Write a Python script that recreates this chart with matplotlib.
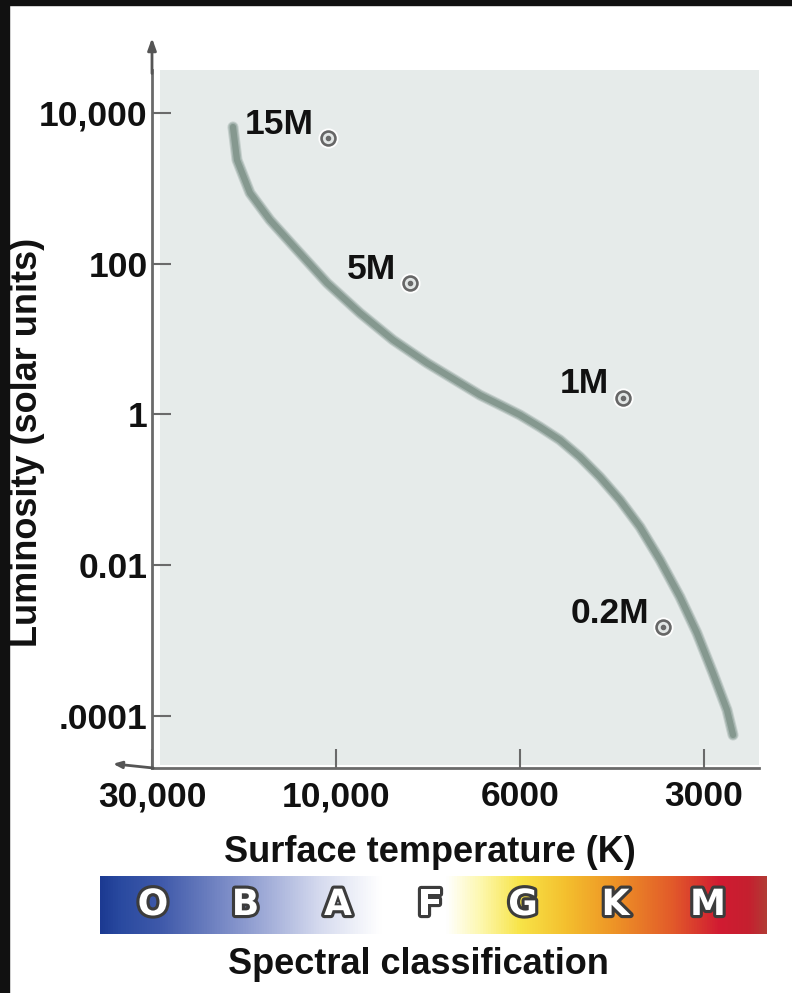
import numpy as np
import matplotlib
matplotlib.use("Agg")
import matplotlib.pyplot as plt
from matplotlib.colors import LinearSegmentedColormap
from matplotlib.patches import Rectangle
from matplotlib.ticker import NullLocator
import matplotlib.patheffects as pe

plt.rcParams['font.family'] = ['Liberation Sans', 'DejaVu Sans']

# ---------------- data ----------------
temp_ticks = [30000, 10000, 6000, 3000]
temp_tick_labels = ['30,000', '10,000', '6000', '3000']
lum_ticks = [1e4, 1e2, 1, 1e-2, 1e-4]
lum_tick_labels = ['10,000', '100', '1', '0.01', '.0001']

# main sequence curve (temperature K, luminosity in solar units)
ms_temp = [18500, 18060, 16710, 14830, 12620, 10550, 9357, 8536, 7770, 7088,
           6705, 6343, 6000, 5566, 5162, 4786, 4440, 4118, 3818, 3541,
           3284, 3081, 2901, 2751, 2689]
ms_lum = [6521, 2379, 868, 380, 152, 55.5, 22.2, 9.74, 4.83, 2.62,
          1.81, 1.34, 0.985, 0.683, 0.459, 0.273, 0.148, 0.0734, 0.0322, 0.01174,
          0.00379, 0.001263, 0.000372, 0.000120, 0.0000559]

star_labels = ['15M', '5M', '1M', '0.2M']
star_temp = [10490, 8140, 4070, 3500]
star_lum = [4660, 55.6, 1.66, 0.00152]

spectral_classes = ['O', 'B', 'A', 'F', 'G', 'K', 'M']

# ---------------- temperature axis scale (piecewise log between ticks) ----------------
_lt = np.log10(np.array(temp_ticks, float))[::-1]          # increasing log T
_pos = -np.arange(len(temp_ticks), dtype=float)[::-1]       # increasing positions


def t2x(T):
    T = np.asarray(T, float)
    with np.errstate(divide='ignore', invalid='ignore'):
        u = np.log10(np.where(T > 0, T, np.nan))
    out = np.interp(u, _lt, _pos)
    s0 = (_pos[1] - _pos[0]) / (_lt[1] - _lt[0])
    s1 = (_pos[-1] - _pos[-2]) / (_lt[-1] - _lt[-2])
    out = np.where(u < _lt[0], _pos[0] + (u - _lt[0]) * s0, out)
    out = np.where(u > _lt[-1], _pos[-1] + (u - _lt[-1]) * s1, out)
    return out


def x2t(x):
    x = np.asarray(x, float)
    u = np.interp(x, _pos, _lt)
    s0 = (_lt[1] - _lt[0]) / (_pos[1] - _pos[0])
    s1 = (_lt[-1] - _lt[-2]) / (_pos[-1] - _pos[-2])
    u = np.where(x < _pos[0], _lt[0] + (x - _pos[0]) * s0, u)
    u = np.where(x > _pos[-1], _lt[-1] + (x - _pos[-1]) * s1, u)
    return 10 ** u


W, H = 792, 993
fig = plt.figure(figsize=(W / 100, H / 100), dpi=100, facecolor='white')

# dark frame strips
fig.patches.append(Rectangle((0, 1 - 5 / H), 1, 5 / H, transform=fig.transFigure,
                             color='#111111', zorder=0))
fig.patches.append(Rectangle((0, 0), 9 / W, 1, transform=fig.transFigure,
                             color='#111111', zorder=0))

ax_l, ax_r, ax_t, ax_b = 152, 759, 70, 768
ax = fig.add_axes([ax_l / W, 1 - ax_b / H, (ax_r - ax_l) / W, (ax_b - ax_t) / H])
ax.set_facecolor('none')
aw, ah = ax_r - ax_l, ax_b - ax_t
ax.add_patch(Rectangle((8 / aw, 3 / ah), 1 - 8 / aw, 1 - 3 / ah, transform=ax.transAxes,
                       color='#e6ebea', zorder=0, lw=0))

ax.set_xscale('function', functions=(t2x, x2t))
ax.set_yscale('log')

# curve with soft edges
ax.plot(ms_temp, ms_lum, color='#c6d0cd', lw=8.0, solid_capstyle='round',
        solid_joinstyle='round', zorder=2)
ax.plot(ms_temp, ms_lum, color='#a5b4af', lw=6.5, solid_capstyle='round',
        solid_joinstyle='round', zorder=2)
ax.plot(ms_temp, ms_lum, color='#85988f', lw=4.5, solid_capstyle='round',
        solid_joinstyle='round', zorder=3)

# star markers
ax.plot(star_temp, star_lum, ls='none', marker='o', ms=13.5, mfc='white', mec='white',
        zorder=4)
ax.plot(star_temp, star_lum, ls='none', marker='o', ms=10, mfc='#e2e6e5', mec='#666666',
        mew=1.9, zorder=5)
ax.plot(star_temp, star_lum, ls='none', marker='o', ms=3.0, mfc='#6a6a6a', mec='#6a6a6a',
        zorder=6)
for lab, t, l in zip(star_labels, star_temp, star_lum):
    ax.annotate(lab, xy=(t, l), xytext=(-10, 10), textcoords='offset points',
                ha='right', va='center', fontsize=25.5, fontweight='bold', color='#111111',
                zorder=7)

# axes styling
for s in ['top', 'right']:
    ax.spines[s].set_visible(False)
for s in ['left', 'bottom']:
    ax.spines[s].set_color('#6a6a6a')
    ax.spines[s].set_linewidth(2.0)

ax.set_xticks(temp_ticks)
ax.set_xticklabels(temp_tick_labels)
ax.set_yticks(lum_ticks)
ax.set_yticklabels(lum_tick_labels)
ax.xaxis.set_minor_locator(NullLocator())
ax.yaxis.set_minor_locator(NullLocator())
ax.set_xlim(temp_ticks[0], float(x2t(-aw / 184.0)))
ax.set_ylim(10 ** -4.69, 10 ** 4.57)
ax.tick_params(axis='x', direction='in', length=14, width=1.5, color='#6a6a6a',
               labelsize=25.5, pad=9, labelcolor='#111111')
ax.tick_params(axis='y', direction='in', length=14, width=1.5, color='#6a6a6a',
               labelsize=25.5, pad=3, labelcolor='#111111')
for t in ax.get_xticklabels() + ax.get_yticklabels():
    t.set_fontweight('bold')

# axis arrows
ax.annotate('', xy=(0, (ax_b - 38) / ah), xytext=(0, 0.995), xycoords='axes fraction',
            arrowprops=dict(arrowstyle='-|>,head_length=0.7,head_width=0.25',
                            color='#555555', lw=2, shrinkA=0, shrinkB=0),
            annotation_clip=False)
ax.annotate('', xy=(-39 / aw, 0.006), xytext=(0.002, 0), xycoords='axes fraction',
            arrowprops=dict(arrowstyle='-|>,head_length=0.5,head_width=0.2',
                            color='#555555', lw=2, shrinkA=0, shrinkB=0),
            annotation_clip=False)

# axis titles
fig.text(28 / W, 1 - 442 / H, 'Luminosity (solar units)', rotation=90, ha='center',
         va='center', fontsize=26, fontweight='bold', color='#111111')
fig.text(430 / W, 1 - 852 / H, 'Surface temperature (K)', ha='center', va='center',
         fontsize=26, fontweight='bold', color='#111111')
fig.text(418 / W, 1 - 965 / H, 'Spectral classification', ha='center', va='center',
         fontsize=26, fontweight='bold', color='#111111')

# spectral colour bar
bx = fig.add_axes([100 / W, 1 - 934 / H, 667 / W, 58 / H])
stops = [(0.00, '#1c3a92'), (0.03, '#2a4aa0'), (0.09, '#3f59aa'), (0.22, '#8e9cd0'),
         (0.33, '#d6dbef'), (0.42, '#ffffff'), (0.52, '#ffffff'), (0.57, '#fdf8b0'),
         (0.63, '#f8e448'), (0.70, '#f4bf2e'), (0.77, '#ee9526'), (0.86, '#e25a2a'),
         (0.93, '#d11b32'), (0.975, '#c5202f'), (1.00, '#b33a35')]
cmap = LinearSegmentedColormap.from_list('spec', stops)
grad = np.linspace(0, 1, 512)[None, :]
x0, x1 = -53 / 92.5, 614 / 92.5
bx.imshow(grad, aspect='auto', cmap=cmap, extent=(x0, x1, 0, 1))
bx.set_xlim(x0, x1)
bx.set_ylim(0, 1)
bx.axis('off')
for i, c in enumerate(spectral_classes):
    bx.text(i, 0.5, c, ha='center', va='center', fontsize=26, fontweight='bold',
            color='white', family='DejaVu Sans',
            path_effects=[pe.Stroke(linewidth=4.5, foreground='#3c3c3c'), pe.Normal()])

fig.savefig('out.png', dpi=100, facecolor='white')
